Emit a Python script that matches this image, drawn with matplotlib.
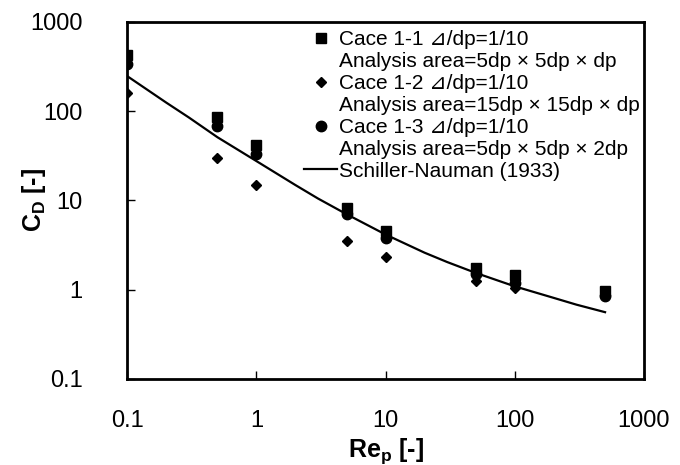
import matplotlib
matplotlib.use('Agg')
import matplotlib.pyplot as plt
from matplotlib.lines import Line2D
from matplotlib.ticker import FixedLocator, FixedFormatter, NullLocator

plt.rcParams['font.family'] = ['Liberation Sans', 'DejaVu Sans', 'Noto Sans CJK JP']

# 데이터
re_p = [0.1, 0.5, 1, 5, 10, 50, 100, 500]
cd_case1 = [420, 85, 42, 8.3, 4.5, 1.75, 1.45, 0.97]   # square
cd_case2 = [160, 30, 15, 3.5, 2.3, 1.25, 1.05, 0.85]   # diamond
cd_case3 = [340, 68, 33, 7.1, 3.8, 1.5, 1.2, 0.85]     # circle

re_sn = [0.1, 0.2, 0.3, 0.5, 1, 2, 3, 5, 10, 20, 30, 50, 100, 200, 300, 500]
cd_sn = [247, 125, 85, 51, 27.6, 14.9, 10.5, 7.0, 4.15, 2.6, 2.04, 1.54,
         1.09, 0.81, 0.68, 0.56]

tick_vals = [0.1, 1, 10, 100, 1000]
tick_labels = ['0.1', '1', '10', '100', '1000']

labels1 = ['Cace 1-1 \u22bf/dp=1/10', 'Analysis area=5dp \u00d7 5dp \u00d7 dp']
labels2 = ['Cace 1-2 \u22bf/dp=1/10', 'Analysis area=15dp \u00d7 15dp \u00d7 dp']
labels3 = ['Cace 1-3 \u22bf/dp=1/10', 'Analysis area=5dp \u00d7 5dp \u00d7 2dp']
label_sn = 'Schiller-Nauman (1933)'

fig = plt.figure(figsize=(6.8, 4.65), dpi=100)
ax = fig.add_axes([0.187, 0.185, 0.760, 0.768])

sq, = ax.plot(re_p, cd_case1, 's', color='black', ms=7, zorder=3)
dm, = ax.plot(re_p, cd_case2, 'D', color='black', ms=5.5, zorder=3)
ci, = ax.plot(re_p, cd_case3, 'o', color='black', ms=7.5, zorder=4)
sn, = ax.plot(re_sn, cd_sn, '-', color='black', lw=1.6, zorder=2)

ax.set_xscale('log')
ax.set_yscale('log')
ax.set_xlim(0.1, 1000)
ax.set_ylim(0.1, 1000)

for axis in (ax.xaxis, ax.yaxis):
    axis.set_major_locator(FixedLocator(tick_vals))
    axis.set_major_formatter(FixedFormatter(tick_labels))
    axis.set_minor_locator(NullLocator())

ax.tick_params(direction='in', length=6, width=1, labelsize=17,
               top=False, right=False)
ax.tick_params(axis='x', pad=22)
ax.tick_params(axis='y', pad=32)
for s in ax.spines.values():
    s.set_linewidth(2)

ax.set_xlabel('Re$_\\mathregular{p}$ [-]', fontsize=18, fontweight='bold')
ax.set_ylabel('C$_\\mathregular{D}$ [-]', fontsize=18, fontweight='bold')
ax.xaxis.set_label_coords(0.5, -0.16)
ax.yaxis.set_label_coords(-0.153, 0.5)

blank = Line2D([], [], linestyle='none')
handles = [sq, blank, dm, blank, ci, blank, sn]
labels = [labels1[0], labels1[1], labels2[0], labels2[1], labels3[0], labels3[1], label_sn]
ax.legend(handles, labels, loc='upper left', bbox_to_anchor=(0.326, 1.0),
          frameon=False, fontsize=15, handlelength=1.6, handletextpad=0.1,
          labelspacing=0.14, borderaxespad=0.2, borderpad=0.2)

fig.savefig('out.png', dpi=100)
